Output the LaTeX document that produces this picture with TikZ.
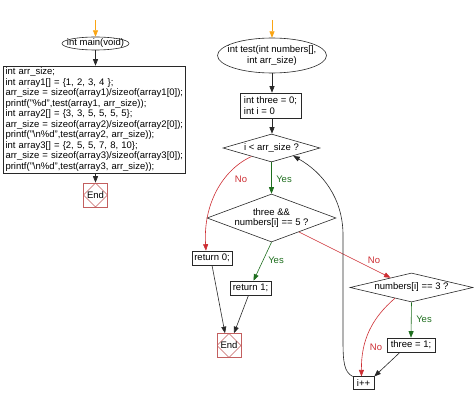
\documentclass[tikz,border=0pt]{standalone}
\usepackage{fontspec}
\setmainfont{Liberation Sans}
\usetikzlibrary{shapes.geometric,arrows.meta}
\definecolor{nored}{RGB}{205,45,50}
\definecolor{yesgreen}{RGB}{30,110,30}
\definecolor{startor}{RGB}{250,165,20}
\definecolor{endred}{RGB}{195,95,95}
\definecolor{lineblk}{RGB}{40,40,40}
\begin{document}
\begin{tikzpicture}[x=1pt,y=-1pt,font=\fontsize{9.5}{10.5}\selectfont,
  tip/.style={-{Triangle[length=6.5pt,width=5pt]}},
  flow/.style={draw=lineblk,line width=0.6pt,tip},
  noflow/.style={draw=nored,line width=0.6pt,tip},
  yesflow/.style={draw=yesgreen,line width=0.6pt,tip},
  startflow/.style={draw=startor,line width=0.8pt,tip},
  outline/.style={draw=lineblk,line width=0.6pt},
  stmt/.style={rectangle,outline,inner xsep=2pt,inner ysep=0pt,minimum height=14pt},
  term/.style={rectangle,inner sep=0pt,align=center},
  dec/.style={diamond,outline,inner sep=0pt,align=center},
  endnode/.style={rectangle,draw=endred,line width=0.6pt,minimum size=24pt,inner sep=0pt,
    path picture={\draw[endred,line width=0.6pt] (path picture bounding box.north) -- (path picture bounding box.east) -- (path picture bounding box.south) -- (path picture bounding box.west) -- cycle;}},
  nolbl/.style={text=nored,inner sep=0pt},
  yeslbl/.style={text=yesgreen,inner sep=0pt}]
\useasboundingbox (0,0) rectangle (474,401);
% left column
\coordinate (s1) at (95.5,20);
\node[term,minimum width=67pt,minimum height=13pt] (mainell) at (95.5,43.5) {int main(void)};
\draw[outline] (mainell.center) ellipse [x radius=33.5pt, y radius=6.5pt];
\node[stmt,align=left,text width=178pt,minimum height=107pt] (mainbox) at (94.5,119.5) {int arr\_size;\\
int array1[] = \{1, 2, 3, 4 \};\\
arr\_size = sizeof(array1)/sizeof(array1[0]);\\
printf("\%d",test(array1, arr\_size));\\
int array2[] = \{3, 3, 5, 5, 5, 5\};\\
arr\_size = sizeof(array2)/sizeof(array2[0]);\\
printf("\textbackslash n\%d",test(array2, arr\_size));\\
int array3[] = \{2, 5, 5, 7, 8, 10\};\\
arr\_size = sizeof(array3)/sizeof(array3[0]);\\
printf("\textbackslash n\%d",test(array3, arr\_size));};
\node[endnode] (endL) at (95.5,195) {End};
\draw[startflow] (s1) -- (mainell.north);
\draw[flow] (mainell.south) -- (mainell.south |- mainbox.north);
\draw[flow] (endL.north |- mainbox.south) -- (endL.north);
% right column
\coordinate (s2) at (272,20);
\node[term,minimum width=109pt,minimum height=35pt] (testell) at (272,55.5) {int test(int numbers[],\\int arr\_size)};
\draw[outline] (testell.center) ellipse [x radius=54.5pt, y radius=17.5pt];
\node[stmt,align=left,minimum width=61pt,minimum height=25pt] (init) at (270.5,105.5) {int three = 0;\\int i = 0};
\node[dec,aspect=3.46,minimum width=97pt,minimum height=28pt] (d1) at (271.5,148) {i < arr\_size ?};
\node[dec,aspect=2.69,minimum width=129pt,minimum height=48pt] (d2) at (271.5,218) {three \&\&\\numbers[i] == 5 ?};
\node[stmt,minimum width=40pt] (ret0) at (212,258) {return 0;};
\node[stmt,minimum width=41pt] (ret1) at (250.5,288) {return 1;};
\node[endnode] (endR) at (229,345.5) {End};
\node[dec,aspect=4.24,minimum width=123pt,minimum height=29pt] (d3) at (411.5,287.5) {numbers[i] == 3 ?};
\node[stmt,minimum width=48pt] (three) at (411,345) {three = 1;};
\node[stmt,minimum width=21pt,minimum height=12.5pt] (inc) at (363.5,383) {i++};
\draw[startflow] (s2) -- (testell.north);
\draw[flow] (testell.south) -- (testell.south |- init.north);
\draw[flow] (testell.south |- init.south) -- (testell.south |- d1.north);
\draw[yesflow] (d1.south) -- (d2.north);
\node[yeslbl] (y1) at (284,179) {Yes};
\draw[noflow] (d1.203) .. controls (222,170) and (203,205) .. ([xshift=-6pt]ret0.north);
\node[nolbl] (n1) at (241,179) {No};
\draw[yesflow] (d2.south) -- ([xshift=3pt]ret1.north);
\node[yeslbl] (y2) at (276,260) {Yes};
\draw[noflow] (d2.-27) -- (d3.155);
\node[nolbl] (n2) at (374,260) {No};
\draw[flow] (ret0.south) -- ([xshift=-4pt]endR.north);
\draw[flow] ([xshift=-2pt]ret1.south) -- ([xshift=5pt]endR.north);
\draw[yesflow] (d3.south) -- (three.north);
\node[yeslbl] (y3) at (424,319) {Yes};
\draw[noflow] (d3.213) .. controls (372,318) and (361,340) .. ([xshift=-2pt]inc.north);
\node[nolbl] (n3) at (376,347) {No};
\draw[flow] ([xshift=-11pt]three.south) -- (inc.north east);
\draw[flow] (inc.north west) .. controls (344,372) and (343,362) .. (343,340) -- (343,235) .. controls (343,198) and (322,172) .. (d1.-20);
\end{tikzpicture}
\end{document}
